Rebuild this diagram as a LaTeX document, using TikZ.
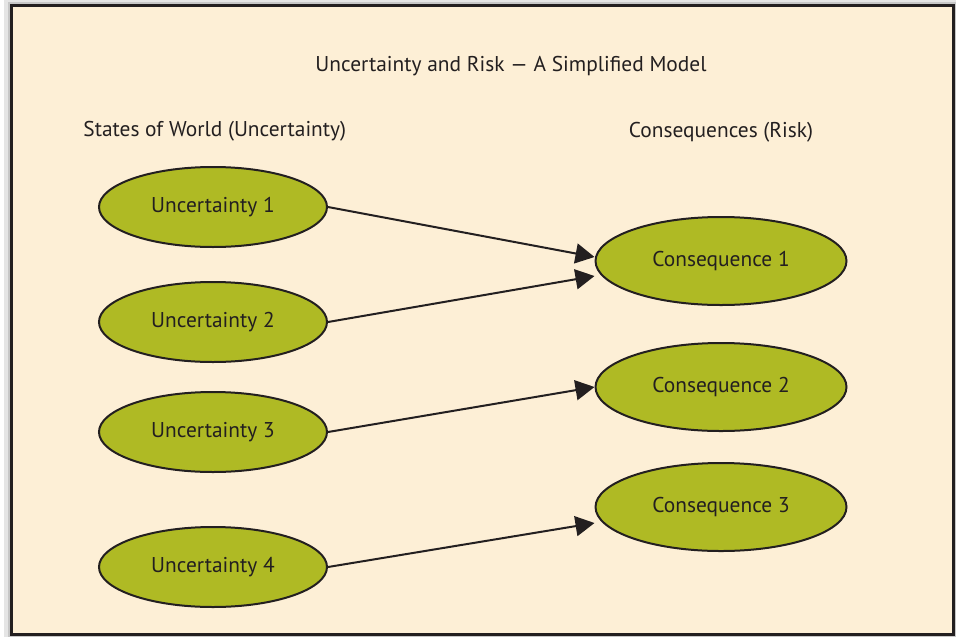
\documentclass[tikz,border=0pt]{standalone}
\usepackage{fontspec}
\setmainfont{PT Sans}
\usetikzlibrary{shapes,arrows.meta}
\definecolor{cream}{RGB}{253,239,214}
\definecolor{olive}{RGB}{175,186,36}
\definecolor{ink}{RGB}{35,31,32}

\begin{document}
\begin{tikzpicture}[x=0.5pt,y=-0.5pt]
\useasboundingbox (0,0) rectangle (956,637);

% frame with its shadow
\fill[black!10] (4,0) rectangle (956,637);
\fill[black!22] (8,2) rectangle (956,637);
\filldraw[fill=cream,draw=ink,line width=1.5pt] (11.5,5.5) rectangle (953.5,634.5);

\tikzstyle{every node} = [font=\fontsize{10.7}{12}\selectfont,text=ink]
\tikzstyle{state} = [ellipse,draw=ink,fill=olive,line width=1pt,
    minimum width=114pt,minimum height=40pt,inner sep=0pt]
\tikzstyle{effect} = [state,minimum width=125.5pt,minimum height=44pt]
\tikzstyle{link} = [draw=ink,line width=1pt,-{Triangle[length=9.5pt,width=10pt]}]

\path (511,66) node (title) {Uncertainty and Risk --- A Simplified Model};
\path (83,131) node[anchor=west,inner sep=0pt] (worlds) {States of World (Uncertainty)};
\path (721,132) node (risks) {Consequences (Risk)};

\begin{scope}
\path (213,207) node[state] (u1) {Uncertainty 1};
\path (213,322) node[state] (u2) {Uncertainty 2};
\path (213,432) node[state] (u3) {Uncertainty 3};
\path (213,567) node[state] (u4) {Uncertainty 4};
\end{scope}

\begin{scope}
\path (721,261) node[effect] (c1) {Consequence 1};
\path (721,387) node[effect] (c2) {Consequence 2};
\path (721,507) node[effect] (c3) {Consequence 3};
\end{scope}

\draw[link] (u1.east) -- ([yshift=2pt]c1.west);
\draw[link] (u2.east) -- ([yshift=-7.5pt]c1.west);
\draw[link] (u3.east) -- (c2.west);
\draw[link] (u4.east) -- ([yshift=-8pt]c3.west);

\end{tikzpicture}
\end{document}
